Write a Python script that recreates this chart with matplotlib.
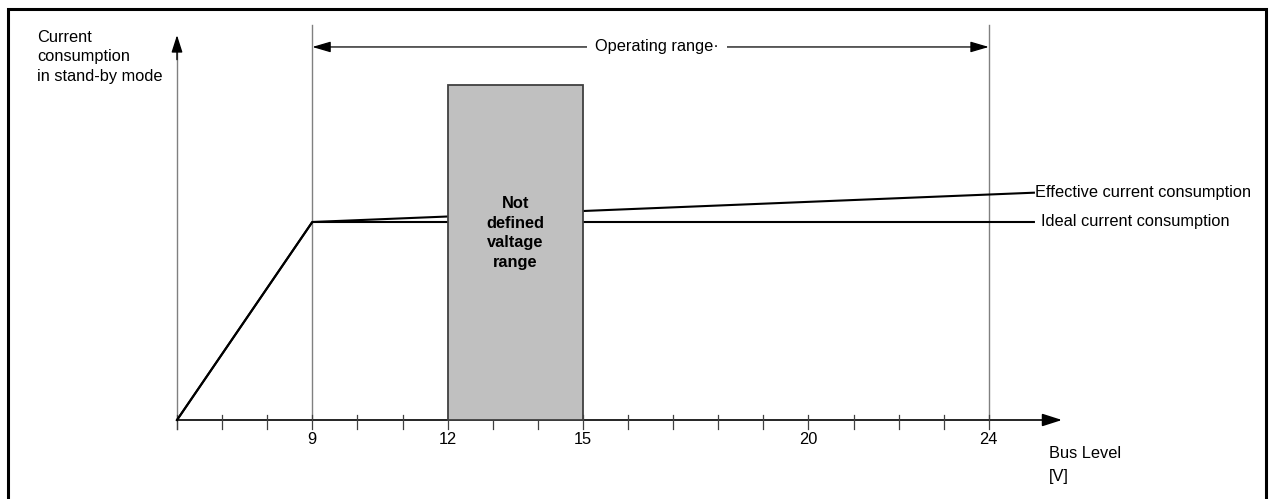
import matplotlib.pyplot as plt
from matplotlib.patches import Rectangle

plt.rcParams['font.family'] = ['Liberation Sans', 'DejaVu Sans']

# --- data (x in volts, y in relative units, ideal level = 1) ---
tick_volts = list(range(6, 25))
labeled_volts = [9, 12, 15, 20, 24]
ideal_x = [6, 9, 25]
ideal_y = [0.0, 1.0, 1.0]
effective_x = [6, 9, 25]
effective_y = [0.0, 1.0, 1.148]
undefined_range = (12, 15)
undefined_top = 1.69
operating_range = (9, 24)
boundary_volts = [9, 24]

fs = 11.8
px_v = 45.1   # pixels per volt
px_u = 198.0  # pixels per y unit
fig = plt.figure(figsize=(12.69, 4.99), dpi=100)
ax = fig.add_axes([0, 0, 1, 1])
ax.set_xlim(6 - 177 / px_v, 6 + 1092 / px_v)
ax.set_ylim(-79 / px_u, 420 / px_u)
ax.axis('off')

# outer frame
fig.patches.append(Rectangle((8 / 1269, -0.02), 1258 / 1269, 490 / 499 + 0.02,
                             transform=fig.transFigure, fill=False,
                             edgecolor='black', linewidth=2.2))

head = '-|>,head_length=0.75,head_width=0.24'

# y axis (gray shaft, black head)
ax.plot([6, 6], [-0.045, 1.88], color='#808080', lw=1.0, zorder=2)
ax.annotate('', xy=(6, 1.944), xytext=(6, 1.82),
            arrowprops=dict(arrowstyle=head, color='black', lw=1.0,
                            mutation_scale=14, shrinkA=0, shrinkB=0), zorder=3)

# x axis
ax.annotate('', xy=(6 + 885 / px_v, 0), xytext=(6, 0),
            arrowprops=dict(arrowstyle=head, color='black', lw=1.2,
                            mutation_scale=16, shrinkA=0, shrinkB=0), zorder=3)
for v in tick_volts:
    ax.plot([v, v], [-0.045, 0.025], color='#404040', lw=0.9, zorder=3)
for v in labeled_volts:
    ax.text(v, -0.1, str(v), ha='center', va='center', fontsize=fs)

# boundary lines at 9 V and 24 V
for v in boundary_volts:
    ax.plot([v, v], [0, 1.995], color='#808080', lw=1.0, zorder=2)

# operating range arrow
ax.annotate('', xy=(operating_range[0], 1.884), xytext=(operating_range[1], 1.884),
            arrowprops=dict(arrowstyle='<|-|>,head_length=0.75,head_width=0.22',
                            color='black', lw=0.9, mutation_scale=15,
                            shrinkA=0, shrinkB=0), zorder=3)
ax.text(16.64, 1.884, 'Operating range\u00b7', ha='center', va='center', fontsize=fs,
        bbox=dict(facecolor='white', edgecolor='none', pad=6), zorder=4)

# current consumption curves
ax.plot(effective_x, effective_y, color='black', lw=1.5, zorder=4)
ax.plot(ideal_x, ideal_y, color='black', lw=1.5, zorder=4)
ax.text(25.02, effective_y[-1], 'Effective current consumption', ha='left',
        va='center', fontsize=fs)
ax.text(25.15, ideal_y[-1], 'Ideal current consumption', ha='left',
        va='center', fontsize=fs)

# not defined voltage range
ax.add_patch(Rectangle((undefined_range[0], 0), undefined_range[1] - undefined_range[0],
                       undefined_top, facecolor='#c0c0c0', edgecolor='#404040',
                       lw=1.3, zorder=5))
ax.text(sum(undefined_range) / 2, (420 - 233) / px_u, 'Not\ndefined\nvaltage\nrange',
        ha='center', va='center', fontsize=fs, fontweight='bold',
        linespacing=1.4, zorder=6)

# axis titles
ax.text(6 - 140 / px_v, (420 - 57) / px_u, 'Current\nconsumption\nin stand-by mode',
        ha='left', va='center', fontsize=fs, linespacing=1.4)
ax.text(6 + (1049 - 177) / px_v, (420 - 465) / px_u, 'Bus Level\n[V]', ha='left',
        va='center', fontsize=fs, linespacing=1.6)

fig.savefig('out.png', dpi=100)
